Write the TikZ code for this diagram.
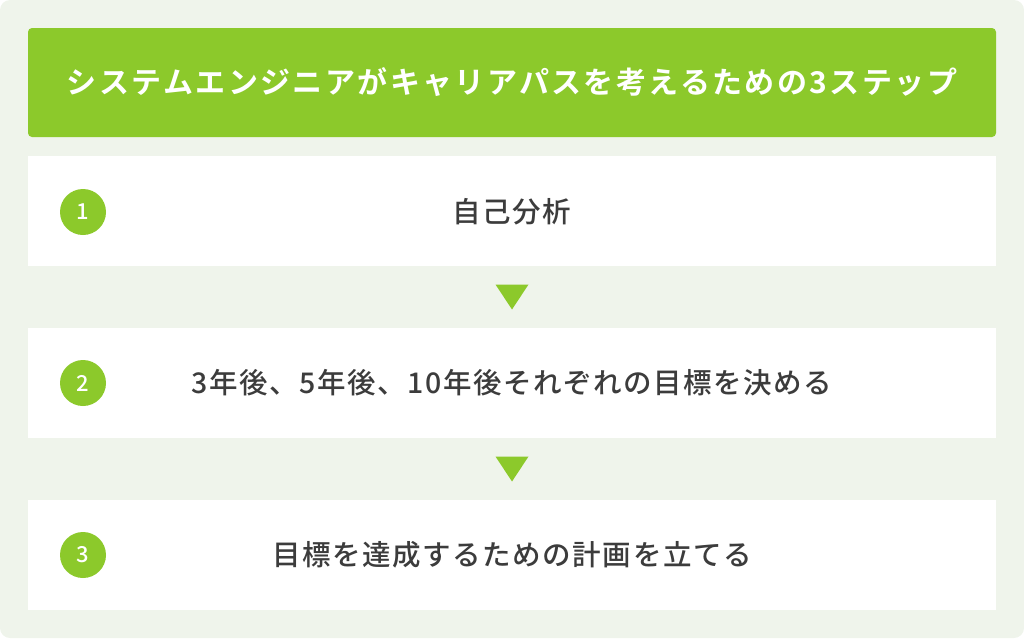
\documentclass[tikz,border=0pt]{standalone}
\usepackage{fontspec}
\usetikzlibrary{calc}
\newfontfamily\jpbold{Noto Sans CJK JP Bold}
\newfontfamily\jpmedium{Noto Sans CJK JP Medium}
\definecolor{midori}{HTML}{8CC92B}
\definecolor{usumidori}{HTML}{EFF4EB}
\definecolor{moji}{HTML}{3C3C3C}
\tikzset{
 midashi/.style={fill=midori,rounded corners=4pt,minimum width=968pt,minimum height=109pt,inner sep=0pt,text=white,font=\jpbold\fontsize{30}{34}\selectfont},
 dan/.style={fill=white,minimum width=968pt,minimum height=110pt,inner sep=0pt},
 bangou/.style={circle,fill=midori,minimum size=46pt,inner sep=0pt,text=white,font=\jpmedium\fontsize{22}{24}\selectfont},
 naiyou/.style={text=moji,font=\jpmedium\fontsize{28.5}{32}\selectfont},
 yajirushi/.style={fill=midori}
}
\begin{document}
\begin{tikzpicture}[x=1pt,y=-1pt]
 \useasboundingbox (0,0) rectangle (1024,638);
 \fill[usumidori,rounded corners=10pt] (0,0) rectangle (1024,638); %背景

 \node[midashi] (H) at (512,82.5) {\addfontfeature{LetterSpace=8}システムエンジニアがキャリアパスを考えるための3ステップ}; %見出し

 \node[dan] (R1) at (512,211) {}; %ステップ1
 \node[dan] (R2) at (512,383) {}; %ステップ2
 \node[dan] (R3) at (512,555) {}; %ステップ3

 \node[bangou] (N1) at (83,212) {1};
 \node[bangou] (N2) at (83,383) {2};
 \node[bangou] (N3) at (83,555) {3};

 \node[naiyou] (T1) at (512,212) {\addfontfeature{LetterSpace=5.5}自己分析};
 \node[naiyou] (T2) at (512,383) {\addfontfeature{LetterSpace=5.5}3年後、5年後、10年後それぞれの目標を決める};
 \node[naiyou] (T3) at (512,555) {\addfontfeature{LetterSpace=5.5}目標を達成するための計画を立てる};

 \coordinate (A1) at (512,297); %三角1
 \coordinate (A2) at (512,469); %三角2
 \fill[yajirushi] ($(A1)+(-16.5,-12.5)$) -- ($(A1)+(16.5,-12.5)$) -- ($(A1)+(0,12.5)$) -- cycle;
 \fill[yajirushi] ($(A2)+(-16.5,-12.5)$) -- ($(A2)+(16.5,-12.5)$) -- ($(A2)+(0,12.5)$) -- cycle;
\end{tikzpicture}
\end{document}
